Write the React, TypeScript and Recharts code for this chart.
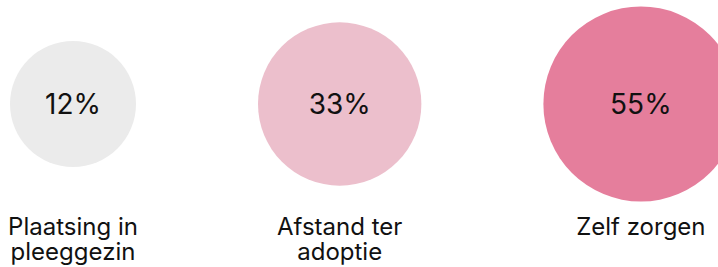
import React from 'react';
import { ScatterChart, Scatter, XAxis, YAxis, ZAxis } from 'recharts';

const categories = ['Plaatsing in\npleeggezin', 'Afstand ter\nadoptie', 'Zelf zorgen'];
const values = [12, 33, 55];
const colors = ['#ebebeb', '#ecbfcc', '#e57e9c'];

const CHART_W = 760;
const CHART_H = 267;
// bubble area (px²) grows linearly with the value
const AREA_RANGE: [number, number] = [12469, 29865];
const VALUE_DOMAIN: [number, number] = [12, 55];
const GAP = 122;
const START = 10;

const areaOf = (v: number) =>
  AREA_RANGE[0] + ((v - VALUE_DOMAIN[0]) / (VALUE_DOMAIN[1] - VALUE_DOMAIN[0])) * (AREA_RANGE[1] - AREA_RANGE[0]);
const radiusOf = (v: number) => Math.sqrt(areaOf(v) / Math.PI);

// circles laid out side by side with an equal gap between them
let cursor = START;
const data = values.map((v, i) => {
  const r = radiusOf(v);
  const x = cursor + r;
  cursor += 2 * r + GAP;
  return { name: categories[i], x, y: 1, z: v, fill: colors[i] };
});

const FONT = 'Inter, sans-serif';

const Bubble = (props: any) => {
  const { cx, cy, width, payload } = props;
  const r = width / 2;
  const lines: string[] = payload.name.split('\n');
  return (
    <g>
      <circle cx={cx} cy={cy} r={r} fill={payload.fill} />
      <text x={cx} y={cy + 10} textAnchor="middle" fontSize={28} fill="#111" fontFamily={FONT}>
        {payload.z}%
      </text>
      {lines.map((l, i) => (
        <text key={i} x={cx} y={235 + i * 25} textAnchor="middle" fontSize={24} fill="#111" fontFamily={FONT}>
          {l}
        </text>
      ))}
    </g>
  );
};

export default function App() {
  return (
    <div style={{ position: 'fixed', left: 0, top: 0, width: 718, height: 267, overflow: 'hidden', background: '#fff' }}>
      <ScatterChart width={CHART_W} height={CHART_H} margin={{ top: 0, right: 0, bottom: 59, left: 0 }}>
        <XAxis type="number" dataKey="x" domain={[0, CHART_W]} hide />
        <YAxis type="number" dataKey="y" domain={[0, 2]} hide />
        <ZAxis type="number" dataKey="z" domain={VALUE_DOMAIN} range={AREA_RANGE} />
        <Scatter data={data} shape={<Bubble />} isAnimationActive={false} />
      </ScatterChart>
    </div>
  );
}
